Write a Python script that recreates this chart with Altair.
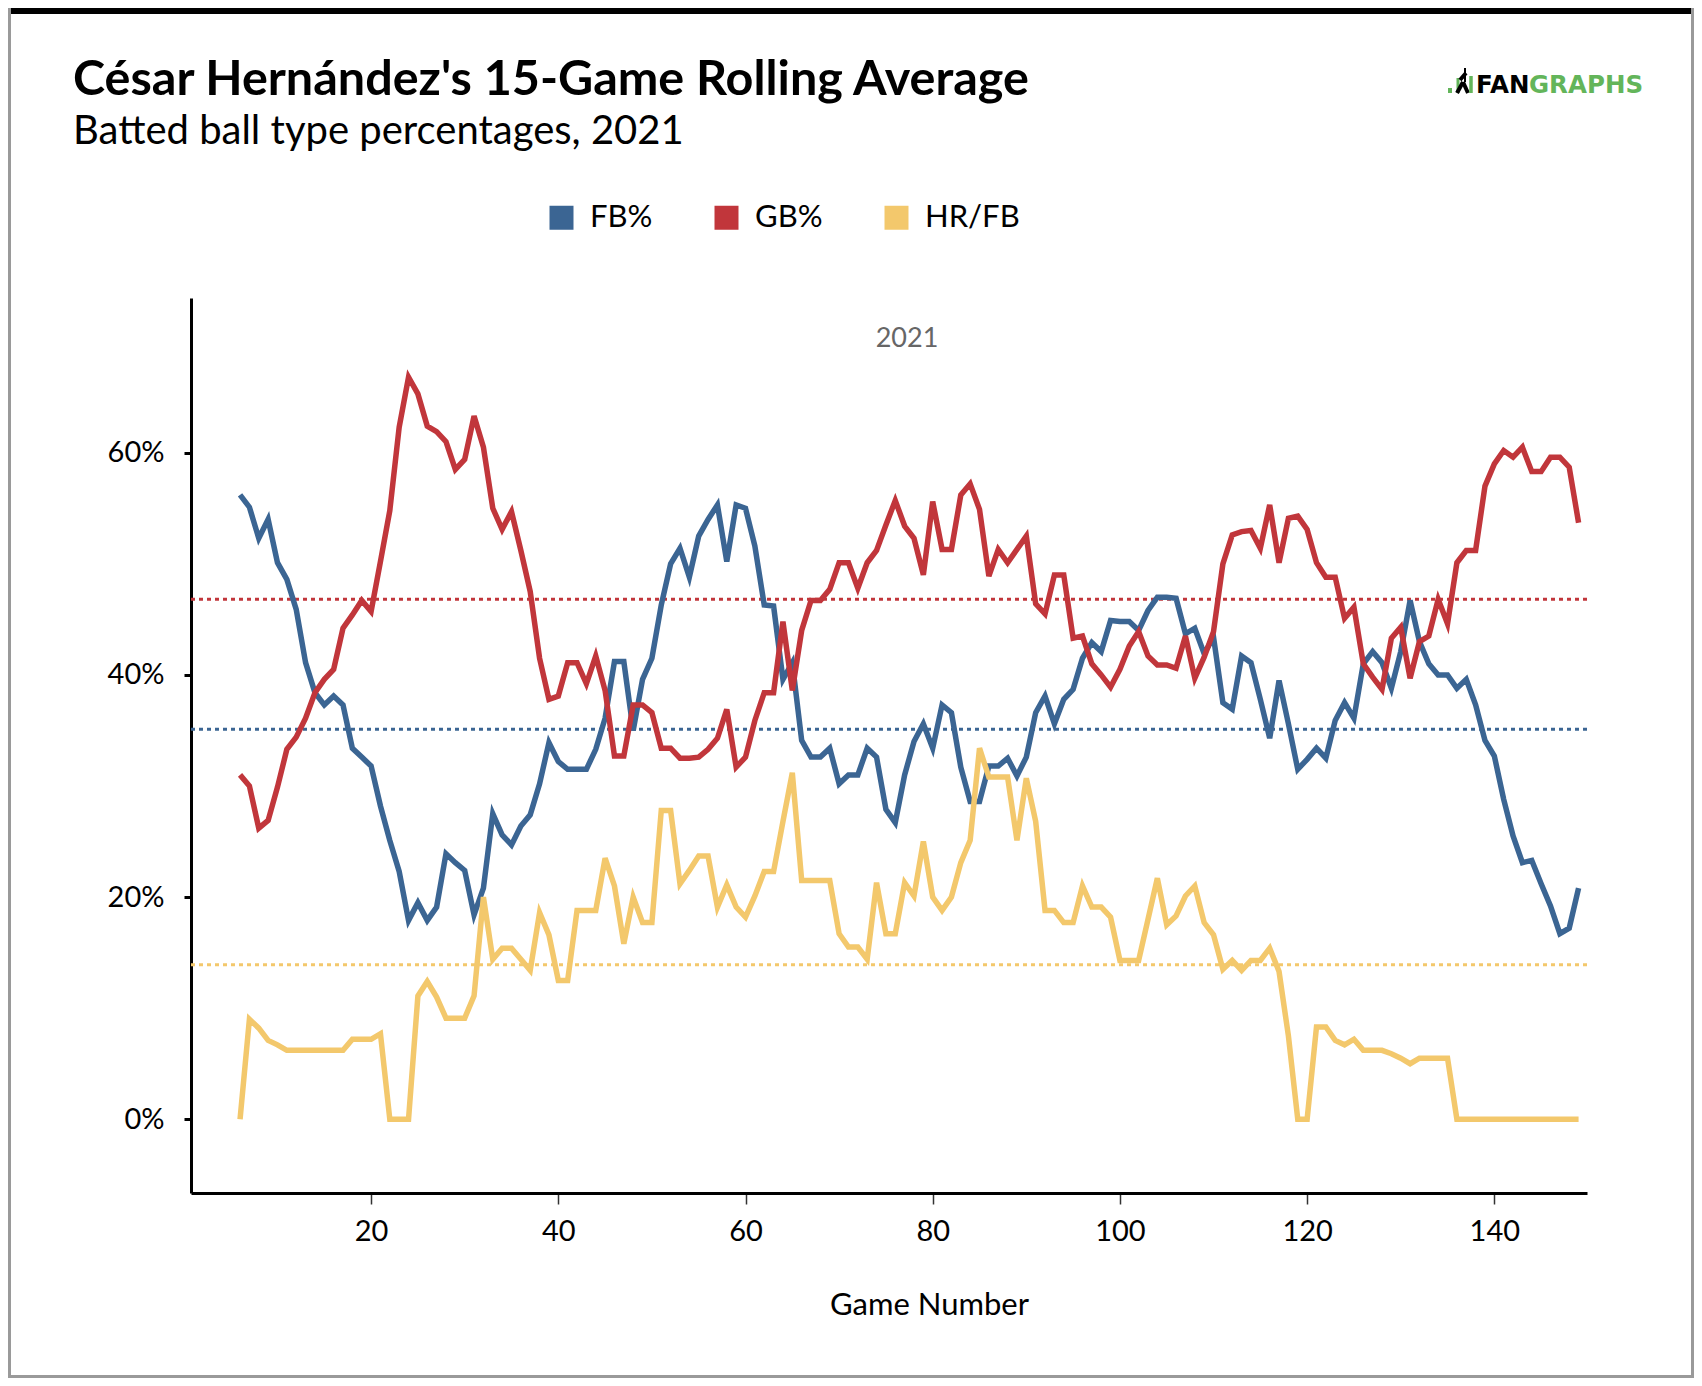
import altair as alt
import pandas as pd

# 15-game rolling batted ball rates, games 6..149 (values in %)
games = list(range(6, 150))

fb_pct = [56.2, 55.1, 52.3, 54.0, 50.1, 48.6, 45.9, 41.1, 38.4, 37.3,
          38.1, 37.3, 33.4, 32.6, 31.8, 28.2, 25.1, 22.3, 17.9, 19.5,
          17.9, 19.1, 23.9, 23.1, 22.4, 18.4, 20.8, 27.5, 25.6, 24.7,
          26.4, 27.4, 30.2, 33.9, 32.2, 31.5, 31.5, 31.5, 33.3, 36.1,
          41.2, 41.2, 35.0, 39.6, 41.5, 46.3, 50.0, 51.4, 48.8, 52.5,
          54.0, 55.3, 50.2, 55.3, 55.0, 51.6, 46.3, 46.2, 39.6, 41.1,
          34.1, 32.6, 32.6, 33.4, 30.2, 31.0, 31.0, 33.4, 32.6, 27.9,
          26.7, 31.0, 34.0, 35.6, 33.4, 37.3, 36.6, 31.7, 28.6, 28.6,
          31.8, 31.8, 32.5, 30.9, 32.6, 36.6, 38.1, 35.6, 37.8, 38.7,
          41.5, 42.9, 42.1, 44.9, 44.8, 44.8, 44.0, 45.8, 47.0, 47.0,
          46.9, 43.7, 44.2, 41.9, 43.4, 37.5, 36.9, 41.7, 41.1, 37.8,
          34.3, 39.5, 35.6, 31.5, 32.4, 33.4, 32.5, 35.9, 37.5, 36.1,
          41.0, 42.1, 41.1, 38.8, 42.1, 46.7, 43.0, 41.0, 40.0, 40.0,
          38.8, 39.6, 37.3, 34.1, 32.7, 28.8, 25.5, 23.1, 23.3, 21.2,
          19.2, 16.7, 17.2, 20.8]

gb_pct = [31.0, 30.0, 26.2, 26.9, 29.9, 33.3, 34.4, 36.1, 38.4, 39.6,
          40.5, 44.2, 45.4, 46.7, 45.7, 50.2, 54.8, 62.3, 66.8, 65.3,
          62.4, 61.9, 61.0, 58.5, 59.4, 63.3, 60.5, 55.0, 53.1, 54.7,
          51.2, 47.5, 41.5, 37.8, 38.1, 41.1, 41.1, 39.2, 41.7, 38.6,
          32.7, 32.7, 37.3, 37.3, 36.6, 33.4, 33.4, 32.5, 32.5, 32.6,
          33.3, 34.3, 36.9, 31.7, 32.6, 35.9, 38.4, 38.4, 44.8, 38.6,
          44.0, 46.7, 46.7, 47.7, 50.1, 50.1, 47.8, 50.1, 51.2, 53.5,
          55.7, 53.4, 52.3, 49.0, 55.6, 51.3, 51.3, 56.2, 57.2, 54.9,
          48.9, 51.3, 50.1, 51.3, 52.5, 46.4, 45.5, 49.0, 49.0, 43.3,
          43.5, 41.0, 40.0, 38.9, 40.5, 42.6, 43.9, 41.7, 40.9, 40.9,
          40.6, 43.5, 39.7, 41.6, 43.9, 50.0, 52.6, 52.9, 53.0, 51.4,
          55.3, 50.1, 54.1, 54.3, 53.1, 50.1, 48.8, 48.8, 45.1, 46.1,
          41.0, 39.8, 38.7, 43.3, 44.3, 39.7, 43.0, 43.5, 46.8, 44.6,
          50.1, 51.2, 51.2, 57.0, 59.0, 60.2, 59.6, 60.5, 58.3, 58.3,
          59.6, 59.6, 58.7, 53.7]

hr_fb = [0.0, 9.0, 8.2, 7.1, 6.7, 6.2, 6.2, 6.2, 6.2, 6.2,
         6.2, 6.2, 7.2, 7.2, 7.2, 7.7, 0.0, 0.0, 0.0, 11.1,
         12.4, 11.0, 9.1, 9.1, 9.1, 11.1, 20.0, 14.4, 15.4, 15.4,
         14.4, 13.4, 18.6, 16.6, 12.5, 12.5, 18.8, 18.8, 18.8, 23.5,
         21.0, 15.8, 20.0, 17.7, 17.7, 27.8, 27.8, 21.2, 22.4, 23.7,
         23.7, 19.1, 21.1, 19.1, 18.2, 20.1, 22.3, 22.3, 26.8, 31.2,
         21.5, 21.5, 21.5, 21.5, 16.7, 15.5, 15.5, 14.4, 21.3, 16.7,
         16.7, 21.3, 20.1, 25.0, 20.0, 18.8, 20.0, 23.1, 25.1, 33.4,
         30.8, 30.8, 30.8, 25.1, 30.7, 26.8, 18.8, 18.8, 17.7, 17.7,
         21.0, 19.1, 19.1, 18.2, 14.3, 14.3, 14.3, 18.0, 21.7, 17.5,
         18.3, 20.1, 21.0, 17.7, 16.6, 13.5, 14.3, 13.4, 14.3, 14.3,
         15.4, 13.3, 7.5, 0.0, 0.0, 8.3, 8.3, 7.1, 6.7, 7.2,
         6.2, 6.2, 6.2, 5.9, 5.5, 5.0, 5.5, 5.5, 5.5, 5.5,
         0.0, 0.0, 0.0, 0.0, 0.0, 0.0, 0.0, 0.0, 0.0, 0.0,
         0.0, 0.0, 0.0, 0.0]

series = ["FB%", "GB%", "HR/FB"]
series_colors = ["#3b6593", "#c1363b", "#f3c86c"]
season_avg = [35.1, 46.8, 13.9]  # dotted reference lines

x_ticks = [20, 40, 60, 80, 100, 120, 140]
y_ticks = [0, 0.2, 0.4, 0.6]

title_text = "César Hernández's 15-Game Rolling Average"
subtitle_text = "Batted ball type percentages, 2021"
panel_label = "2021"

rows = []
for name, vals in zip(series, [fb_pct, gb_pct, hr_fb]):
    for g, v in zip(games, vals):
        rows.append({"game": g, "series": name, "pct": v / 100})
df = pd.DataFrame(rows)
avg_df = pd.DataFrame({"series": series, "pct": [v / 100 for v in season_avg]})

W, H = 1396, 895
FONT = "Lato"
GREEN = "#63b55a"

x_scale = alt.Scale(domain=[0.76, 149.9], nice=False, zero=False)
y_scale = alt.Scale(domain=[-0.0664, 0.7393], nice=False, zero=False)
color = alt.Color(
    "series:N",
    scale=alt.Scale(domain=series, range=series_colors),
    title=None,
    legend=alt.Legend(
        orient="none", legendX=355, legendY=-96, direction="horizontal",
        symbolType="square", symbolSize=4, symbolStrokeWidth=22,
        symbolOpacity=1, labelFont=FONT, labelFontSize=31, labelColor="black",
        labelOffset=13, columnPadding=28, padding=0,
    ),
)

lines = alt.Chart(df).mark_line(strokeWidth=5.5).encode(
    x=alt.X("game:Q", scale=x_scale, title="Game Number",
            axis=alt.Axis(values=x_ticks, format="d", tickSize=11, tickWidth=1.5,
                          tickColor="#333333", labelPadding=36,
                          labelBaseline="alphabetic", titleX=738, titleY=121,
                          titleBaseline="alphabetic")),
    y=alt.Y("pct:Q", scale=y_scale, title=None,
            axis=alt.Axis(values=y_ticks, format=".0%", tickSize=7, tickWidth=3,
                          tickColor="black", labelPadding=20)),
    color=color,
)

avg_lines = alt.Chart(avg_df).mark_rule(strokeWidth=3, strokeDash=[4, 4]).encode(
    y=alt.Y("pct:Q", scale=y_scale),
    color=color,
)


def label(text, x, y, size, weight="normal", col="black", font=FONT, align="left"):
    return alt.Chart(pd.DataFrame({"t": [text]})).mark_text(
        font=font, fontSize=size, fontWeight=weight, color=col,
        align=align, baseline="alphabetic",
    ).encode(x=alt.value(x), y=alt.value(y), text="t:N")


# positions below are relative to the plot area's top-left corner
title = label(title_text, -118, -203, 48.5, weight="bold")
subtitle = label(subtitle_text, -118, -154, 40)
panel = label(panel_label, 716, 49, 27, col="#666666", align="center")
logo_fan = label("FAN", 1285, -205, 24.5, weight="bold", font="DejaVu Sans")
logo_graphs = label("GRAPHS", 1338, -205, 24.5, weight="bold", col=GREEN,
                    font="DejaVu Sans")

one = pd.DataFrame({"k": [0]})


def bar(x, y1, y2, width, col):
    return alt.Chart(one).mark_rule(strokeWidth=width, color=col).encode(
        x=alt.value(x), y=alt.value(y1), y2=alt.value(y2))


def hbar(x1, x2, y, width, col):
    return alt.Chart(one).mark_rule(strokeWidth=width, color=col).encode(
        x=alt.value(x1), x2=alt.value(x2), y=alt.value(y))


def slant(x1, y1, x2, y2, width, col):
    return alt.Chart(one).mark_rule(strokeWidth=width, color=col).encode(
        x=alt.value(x1), y=alt.value(y1), x2=alt.value(x2), y2=alt.value(y2))


logo_icon = alt.layer(
    bar(1259, -210, -205, 4, GREEN),
    bar(1267, -220, -205, 3, GREEN),
    slant(1266, -205, 1272, -216, 4, "black"),
    slant(1272, -216, 1277, -205, 4, "black"),
    slant(1269, -218, 1275, -225, 4, "black"),
    bar(1274, -230, -216, 2, "black"),
    bar(1280, -222, -205, 3.5, GREEN),
)

frame = alt.layer(
    hbar(-183, 1503, -287, 6, "black"),
    bar(-181.5, -290, 1080, 3, "#9a9a9a"),
    bar(1501.5, -290, 1080, 3, "#9a9a9a"),
    hbar(-183, 1503, 1078.5, 3, "#9a9a9a"),
)

chart = alt.layer(
    avg_lines, lines, title, subtitle, panel, logo_fan, logo_graphs, logo_icon, frame,
).properties(
    width=W, height=H,
    autosize=alt.AutoSizeParams(type="none"),
    padding={"left": 183, "top": 290, "right": 107, "bottom": 185},
).configure_view(
    strokeWidth=0
).configure_axis(
    grid=False, domainColor="black", domainWidth=3,
    labelFont=FONT, labelFontSize=29, labelColor="black",
    titleFont=FONT, titleFontSize=31, titleFontWeight="normal", titleColor="black",
)

chart.save("out.html", embed_options={"renderer": "svg", "actions": False})
